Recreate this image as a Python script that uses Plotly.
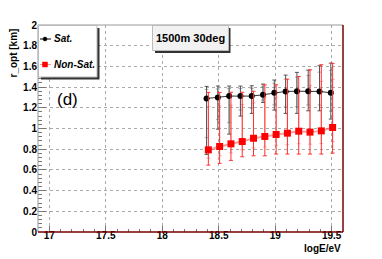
import plotly.graph_objects as go

# ---- data ----
log_e = [18.4, 18.5, 18.6, 18.7, 18.8, 18.9, 19.0, 19.1, 19.2, 19.3, 19.4, 19.5]

sat_r = [1.29, 1.30, 1.313, 1.313, 1.313, 1.326, 1.345, 1.358, 1.36, 1.36, 1.358, 1.345]
sat_hi = [1.407, 1.41, 1.41, 1.41, 1.413, 1.429, 1.468, 1.516, 1.542, 1.564, 1.606, 1.632]
sat_lo = [0.75, 0.994, 0.946, 1.12, 1.146, 1.252, 1.178, 1.146, 1.146, 1.171, 1.171, 1.091]

nonsat_r = [0.794, 0.826, 0.852, 0.874, 0.906, 0.923, 0.942, 0.955, 0.974, 0.965, 0.977, 1.010]
nonsat_hi = [1.349, 1.349, 1.35, 1.35, 1.36, 1.422, 1.422, 1.477, 1.503, 1.567, 1.616, 1.629]
nonsat_lo = [0.646, 0.663, 0.692, 0.727, 0.736, 0.736, 0.753, 0.753, 0.753, 0.753, 0.753, 0.762]

x_ticks = [17, 17.5, 18, 18.5, 19, 19.5]
y_ticks = [0, 0.2, 0.4, 0.6, 0.8, 1, 1.2, 1.4, 1.6, 1.8, 2]

W, H = 382, 259
L, R, T, B = 38, 343, 25, 232

def px(x):
    return (x - L) / (R - L)

def py(y):
    return (B - y) / (B - T)

shift = 0.008
x_sat = [v - shift for v in log_e]
x_non = [v + shift for v in log_e]

fig = go.Figure()

# inner (lighter) error bars
fig.add_trace(go.Scatter(
    x=x_sat, y=sat_r, mode="markers", marker=dict(size=1, color="rgba(0,0,0,0)"),
    error_y=dict(type="data", symmetric=False,
                 array=[(h - r) * 0.75 for h, r in zip(sat_hi, sat_r)],
                 arrayminus=[(r - l) * 0.7 for l, r in zip(sat_lo, sat_r)],
                 color="rgba(120,120,120,0.6)", thickness=1, width=2),
    showlegend=False, hoverinfo="skip"))
fig.add_trace(go.Scatter(
    x=x_non, y=nonsat_r, mode="markers", marker=dict(size=1, color="rgba(0,0,0,0)"),
    error_y=dict(type="data", symmetric=False,
                 array=[(h - r) * 0.75 for h, r in zip(nonsat_hi, nonsat_r)],
                 arrayminus=[(r - l) * 0.55 for l, r in zip(nonsat_lo, nonsat_r)],
                 color="rgba(255,120,120,0.6)", thickness=1, width=2),
    showlegend=False, hoverinfo="skip"))

# main series
fig.add_trace(go.Scatter(
    x=x_sat, y=sat_r, mode="lines+markers", name="Sat.",
    line=dict(color="#333333", width=1),
    marker=dict(symbol="circle", size=6, color="black"),
    error_y=dict(type="data", symmetric=False,
                 array=[h - r for h, r in zip(sat_hi, sat_r)],
                 arrayminus=[r - l for l, r in zip(sat_lo, sat_r)],
                 color="#555555", thickness=1, width=2),
    showlegend=False))
fig.add_trace(go.Scatter(
    x=x_non, y=nonsat_r, mode="lines+markers", name="Non-Sat.",
    line=dict(color="rgba(255,80,80,0.55)", width=2),
    marker=dict(symbol="square", size=7, color="#ff0000"),
    error_y=dict(type="data", symmetric=False,
                 array=[h - r for h, r in zip(nonsat_hi, nonsat_r)],
                 arrayminus=[r - l for l, r in zip(nonsat_lo, nonsat_r)],
                 color="#ff3030", thickness=1, width=2),
    showlegend=False))

FONT = "Liberation Sans"
tickfont = dict(family=FONT, size=10, color="black", weight="bold")

fig.update_xaxes(
    range=[16.9, 19.6], tickvals=x_ticks, ticktext=[str(v) for v in x_ticks],
    showgrid=True, gridcolor="#aaaaaa", griddash="dot", gridwidth=1,
    ticks="inside", ticklen=6, tickcolor="#777777",
    minor=dict(dtick=0.1, tick0=17, ticks="inside", ticklen=3, tickcolor="#777777", showgrid=False),
    showline=False, zeroline=False, tickfont=tickfont, ticklabelstandoff=-4)
fig.update_yaxes(
    range=[0, 2], tickvals=y_ticks, ticktext=["0", "0.2", "0.4", "0.6", "0.8", "1", "1.2", "1.4", "1.6", "1.8", "2"],
    showgrid=True, gridcolor="#aaaaaa", griddash="dot", gridwidth=1,
    ticks="inside", ticklen=8, tickcolor="#777777",
    minor=dict(dtick=0.04, tick0=0, ticks="inside", ticklen=4, tickcolor="#777777", showgrid=False),
    showline=False, zeroline=False, tickfont=tickfont)

shapes = []
# frame
shapes.append(dict(type="line", xref="paper", yref="paper", x0=0, x1=0, y0=0, y1=1, line=dict(color="#999999", width=1)))
shapes.append(dict(type="line", xref="paper", yref="paper", x0=0, x1=1, y0=1, y1=1, line=dict(color="#999999", width=1)))
shapes.append(dict(type="line", xref="paper", yref="paper", x0=0, x1=1, y0=0, y1=0, line=dict(color="#7a0000", width=1.5)))
shapes.append(dict(type="line", xref="paper", yref="paper", x0=1, x1=1, y0=0, y1=1, line=dict(color="#7a0000", width=1.5)))

# legend box with shadow
shapes.append(dict(type="rect", xref="paper", yref="paper", x0=px(41), x1=px(99.5), y0=py(79.5), y1=py(28),
                   fillcolor="#333333", line=dict(width=0)))
shapes.append(dict(type="rect", xref="paper", yref="paper", x0=px(38.5), x1=px(97), y0=py(77), y1=py(25.5),
                   fillcolor="white", line=dict(color="#bbbbbb", width=1)))
# legend samples
shapes.append(dict(type="line", xref="paper", yref="paper", x0=px(40), x1=px(51), y0=py(39), y1=py(39),
                   line=dict(color="black", width=1)))
shapes.append(dict(type="circle", xref="paper", yref="paper", x0=px(43), x1=px(47), y0=py(41), y1=py(37),
                   fillcolor="black", line=dict(color="black", width=0.5)))
shapes.append(dict(type="line", xref="paper", yref="paper", x0=px(40), x1=px(51), y0=py(64.5), y1=py(64.5),
                   line=dict(color="rgba(255,80,80,0.6)", width=1)))
shapes.append(dict(type="rect", xref="paper", yref="paper", x0=px(42.5), x1=px(47.5), y0=py(67), y1=py(62),
                   fillcolor="#ff0000", line=dict(color="#ff0000", width=0.5)))

# title box with shadow
shapes.append(dict(type="rect", xref="paper", yref="paper", x0=px(155), x1=px(230.5), y0=py(53), y1=py(28),
                   fillcolor="#333333", line=dict(width=0)))
shapes.append(dict(type="rect", xref="paper", yref="paper", x0=px(152.5), x1=px(228.5), y0=py(50.5), y1=py(25.5),
                   fillcolor="#f2f2f2", line=dict(color="#bbbbbb", width=1)))

annotations = [
    dict(text="<b><i>Sat.</i></b>", x=px(52), y=py(39), xref="paper", yref="paper",
         xanchor="left", yanchor="middle", showarrow=False, font=dict(family=FONT, size=10, color="black")),
    dict(text="<b><i>Non-Sat.</i></b>", x=px(52), y=py(64.5), xref="paper", yref="paper",
         xanchor="left", yanchor="middle", showarrow=False, font=dict(family=FONT, size=10, color="black")),
    dict(text="<b>1500m 30deg</b>", x=px(190.5), y=py(38), xref="paper", yref="paper",
         xanchor="center", yanchor="middle", showarrow=False, font=dict(family=FONT, size=11, color="black")),
    dict(text="(d)", x=px(67), y=py(99), xref="paper", yref="paper",
         xanchor="center", yanchor="middle", showarrow=False, font=dict(family=FONT, size=17, color="black")),
    dict(text="<b>r_opt [km]</b>", x=px(13), y=py(27), xref="paper", yref="paper", textangle=-90,
         xanchor="center", yanchor="top", showarrow=False, font=dict(family=FONT, size=10, color="black")),
    dict(text="<b>logE/eV</b>", x=px(343), y=py(249), xref="paper", yref="paper",
         xanchor="right", yanchor="middle", showarrow=False, font=dict(family=FONT, size=10, color="black")),
]

fig.update_layout(
    width=W, height=H,
    margin=dict(l=L, r=W - R, t=T, b=H - B, pad=0),
    paper_bgcolor="white", plot_bgcolor="white",
    shapes=shapes, annotations=annotations, showlegend=False,
)

fig.write_html("out.html", config={"displayModeBar": False},
               post_script="document.body.style.margin='0';document.body.style.overflow='hidden';")
